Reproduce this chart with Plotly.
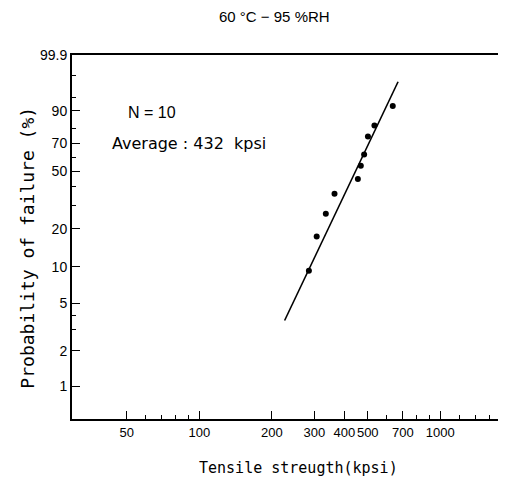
import numpy as np
import plotly.graph_objects as go

# ---- data ----
strength_kpsi = [285, 307, 335, 364, 455, 468, 483, 501, 533, 635]
failure_pct = [9.3, 17.5, 26, 36, 45, 54, 62, 75, 82, 92]
fit_strength = [226, 668]
fit_pct = [3.6, 98.3]

y_major_vals = [1, 2, 5, 10, 20, 50, 70, 90, 99.9]
y_major_text = ["1", "2", "5", "10", "20", "50", "70", "90", "99.9"]
y_minor_vals = [3, 4, 30, 40, 60, 80, 95, 99]
x_major_vals = [50, 100, 200, 300, 400, 500, 700, 1000]
x_major_text = ["50", "100", "200", "300", "400", "500", "700", "1000"]
x_minor_vals = [60, 70, 80, 90, 600, 800, 900, 1200, 1400, 1600]


def weib(p):
    p = np.asarray(p, dtype=float) / 100.0
    return np.log(-np.log(1.0 - p))


FONT = "Liberation Sans, Arial, sans-serif"
y_range = [-5.25, float(weib(99.9))]
x_range = [1.472, 3.256]

fig = go.Figure()
fig.add_trace(go.Scatter(x=fit_strength, y=weib(fit_pct), mode="lines",
                         line=dict(color="black", width=1.6), showlegend=False))
fig.add_trace(go.Scatter(x=strength_kpsi, y=weib(failure_pct), mode="markers",
                         marker=dict(color="black", size=6), showlegend=False))
# invisible trace for minor-tick axes
fig.add_trace(go.Scatter(x=[None], y=[None], xaxis="x2", yaxis="y2", showlegend=False))

# page body has an 8px margin, so the figure is sized to fit the remaining window
fig.update_layout(
    width=498, height=485,
    margin=dict(l=64, r=4, t=47, b=74, autoexpand=False),
    plot_bgcolor="white", paper_bgcolor="white",
    font=dict(family=FONT, color="black", size=13),
    xaxis=dict(type="log", range=x_range, tickvals=x_major_vals, ticktext=x_major_text,
               ticks="inside", ticklen=8, tickwidth=1.3, tickcolor="black", tickangle=0,
               showline=True, linecolor="black", linewidth=2, mirror=True, automargin=False,
               showgrid=False, zeroline=False, tickfont=dict(size=13)),
    yaxis=dict(range=y_range, tickvals=list(weib(y_major_vals)), ticktext=y_major_text,
               ticks="inside", ticklen=8, tickwidth=1.3, tickcolor="black", automargin=False,
               showline=True, linecolor="black", linewidth=2,
               showgrid=False, zeroline=False, tickfont=dict(size=14)),
    xaxis2=dict(type="log", range=x_range, overlaying="x", tickvals=x_minor_vals,
                ticks="inside", ticklen=4, tickwidth=1.2, tickcolor="black", automargin=False,
                showticklabels=False, showgrid=False, zeroline=False, showline=False),
    yaxis2=dict(range=y_range, overlaying="y", tickvals=list(weib(y_minor_vals)),
                ticks="inside", ticklen=4, tickwidth=1.2, tickcolor="black", automargin=False,
                showticklabels=False, showgrid=False, zeroline=False, showline=False),
    showlegend=False,
)

fig.add_annotation(text="60 °C − 95 %RH", xref="paper", yref="paper", x=0.47, y=1.105,
                   xanchor="center", yanchor="middle", showarrow=False,
                   font=dict(family=FONT, size=15))
fig.add_annotation(text="N = 10", xref="paper", yref="paper", x=0.187, y=0.841,
                   xanchor="center", yanchor="middle", showarrow=False,
                   font=dict(family=FONT, size=16))
fig.add_annotation(text="Average : 432  kpsi", xref="paper", yref="paper", x=0.088, y=0.758,
                   xanchor="left", yanchor="middle", showarrow=False,
                   font=dict(family="DejaVu Sans, sans-serif", size=16))
fig.add_annotation(text="Tensile streugth(kpsi)", xref="paper", yref="paper", x=0.526, y=-0.135,
                   xanchor="center", yanchor="middle", showarrow=False,
                   font=dict(family="DejaVu Sans Mono, monospace", size=15))
fig.add_annotation(text="Probability of failure (%)", xref="paper", yref="paper", x=-0.103, y=0.47,
                   xanchor="center", yanchor="middle", showarrow=False, textangle=-90,
                   font=dict(family="DejaVu Sans Mono, monospace", size=18))

fig.write_html("out.html")
